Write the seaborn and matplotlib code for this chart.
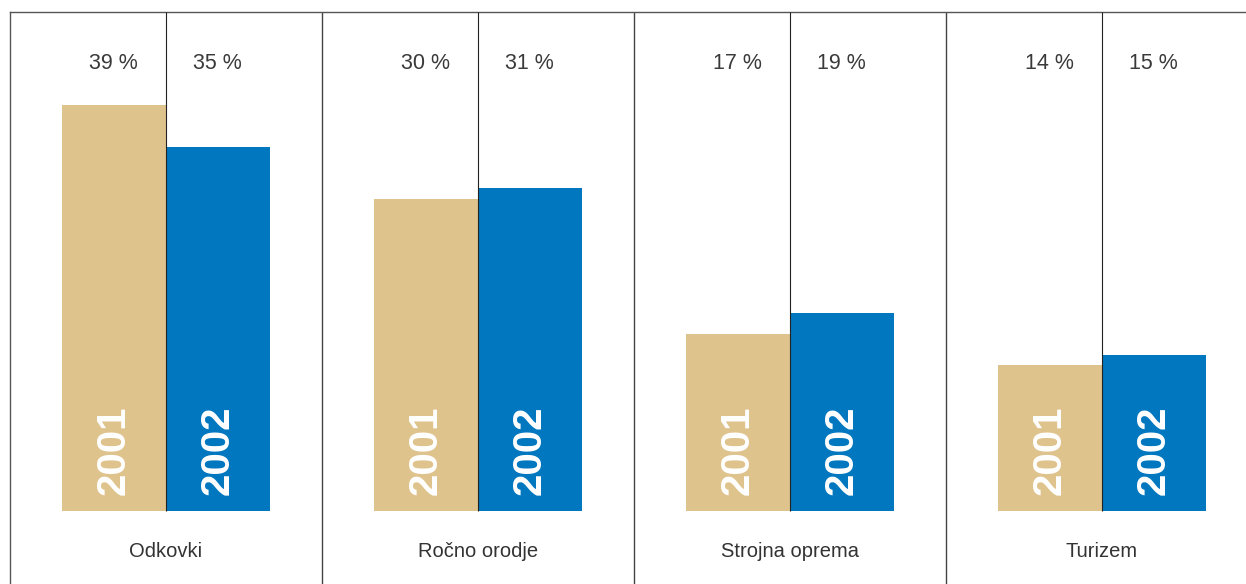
import numpy as np
import pandas as pd
import matplotlib
matplotlib.use("Agg")
import matplotlib.pyplot as plt
import seaborn as sns

# --------------------------- data ---------------------------
categories = ["Odkovki", "Ročno orodje", "Strojna oprema", "Turizem"]
years = ["2001", "2002"]
share_2001 = [39, 30, 17, 14]
share_2002 = [35, 31, 19, 15]

df = pd.DataFrame({
    "kategorija": categories * 2,
    "leto": [years[0]] * len(categories) + [years[1]] * len(categories),
    "delez": share_2001 + share_2002,
})

tan = "#DFC38D"
blue = "#0077BE"

sns.set_theme(style="white")
plt.rcParams["font.family"] = ["Liberation Sans", "DejaVu Sans"]

W, H = 1246, 584
fig = plt.figure(figsize=(W / 100, H / 100), dpi=100)
# axes: panels are 312 px wide starting at x=10; last panel is cut by the figure edge
ax = fig.add_axes([10 / W, 0, 1248 / W, (H - 12) / H])

px_per_unit = 10.41

sns.barplot(data=df, x="kategorija", y="delez", hue="leto", order=categories,
            hue_order=years, palette=[tan, blue], width=0.667, saturation=1,
            dodge=True, legend=False, ax=ax, linewidth=0)
ax.set_xlim(-0.5, len(categories) - 0.5)
ax.set_ylim(-(H - 511) / px_per_unit, (511 - 12) / px_per_unit)

# frame: top line and left edge only
for side in ["right", "bottom"]:
    ax.spines[side].set_visible(False)
for side in ["top", "left"]:
    ax.spines[side].set_color("#555555")
    ax.spines[side].set_linewidth(1.0)
ax.set_xticks([])
ax.set_yticks([])
ax.set_xlabel("")
ax.set_ylabel("")

ymin, ymax = ax.get_ylim()
# panel dividers
for i in range(1, len(categories)):
    ax.axvline(i - 0.5, color="#444444", linewidth=1.0)
# centre lines between the two bars
ax.vlines(range(len(categories)), 0, ymax, color="#222222", linewidth=0.8, zorder=3)

# labels
for container, year in zip(ax.containers, years):
    for bar in container:
        cx = bar.get_x() + bar.get_width() / 2
        ax.text(cx - 0.003, 43.0, f"{int(round(bar.get_height()))} %", ha="center", va="center",
                fontsize=15.5, color="#3a3a3a")
        ax.text(cx, 1.5, year, rotation=90, ha="center", va="bottom",
                fontsize=29, fontweight="bold", color="white", zorder=4)

for i, cat in enumerate(categories):
    ax.text(i, -3.85, cat, ha="center", va="center", fontsize=14.5, color="#333333")

fig.savefig("out.png", dpi=100)
